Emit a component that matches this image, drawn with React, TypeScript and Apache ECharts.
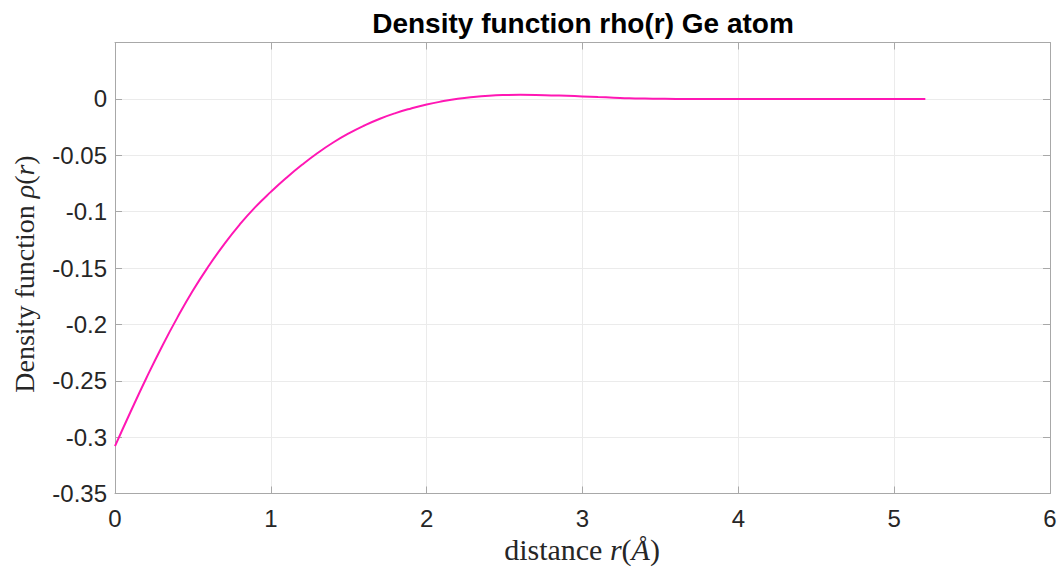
import React, { useEffect, useRef } from "react";
import * as echarts from "echarts";

const titleText = "Density function rho(r) Ge atom";

const rValues = [
  0.0, 0.1, 0.2, 0.3, 0.4, 0.5, 0.6, 0.7, 0.8, 0.9,
  1.0, 1.1, 1.2, 1.3, 1.4, 1.5, 1.6, 1.7, 1.8, 1.9,
  2.0, 2.1, 2.2, 2.3, 2.4, 2.5, 2.6, 2.7, 2.8, 2.9,
  3.0, 3.1, 3.2, 3.3, 3.4, 3.5, 3.6, 3.7, 3.8, 3.9,
  4.0, 4.1, 4.2, 4.3, 4.4, 4.5, 4.6, 4.7, 4.8, 4.9,
  5.0, 5.1, 5.2,
];

const rhoValues = [
  -0.308, -0.2775, -0.248, -0.22, -0.194, -0.17, -0.1485, -0.129, -0.1115, -0.096,
  -0.0825, -0.070, -0.0585, -0.048, -0.0387, -0.0306, -0.0236, -0.0176, -0.0126, -0.0085,
  -0.005, -0.0022, 0.0001, 0.0017, 0.0028, 0.0034, 0.0036, 0.0035, 0.0031, 0.0027,
  0.0022, 0.0016, 0.0011, 0.0006, 0.0003, 0.0001, 0.0, 0.0, 0.0, 0.0,
  0.0, 0.0, 0.0, 0.0, 0.0, 0.0, 0.0, 0.0, 0.0, 0.0,
  0.0, 0.0, 0.0,
];

const xTickLabels = ["0", "1", "2", "3", "4", "5", "6"];
const yTickLabels = ["-0.35", "-0.3", "-0.25", "-0.2", "-0.15", "-0.1", "-0.05", "0"];

const X_MIN = 0;
const X_MAX = 6;
const Y_MIN = -0.35;
const Y_MAX = 0.05;

export default function App() {
  const ref = useRef<HTMLDivElement>(null);

  useEffect(() => {
    document.body.style.margin = "0";
    if (!ref.current) return;
    const chart = echarts.init(ref.current, undefined, { renderer: "svg" });

    const axisGray = "#a8a8a8";
    const labelFont = "'Liberation Sans', Arial, Helvetica, sans-serif";
    const serif = "'Liberation Serif', 'Times New Roman', serif";

    const fmtX = (v: number) => {
      const i = Math.round(v - X_MIN);
      return xTickLabels[i] ?? "";
    };
    const fmtY = (v: number) => {
      const i = Math.round((v - Y_MIN) / 0.05);
      return yTickLabels[i] ?? "";
    };

    const commonX = {
      type: "value" as const,
      min: X_MIN,
      max: X_MAX,
      interval: 1,
      axisLine: { show: true, onZero: false, lineStyle: { color: axisGray, width: 1 } },
      axisTick: { show: true, inside: true, length: 7, lineStyle: { color: axisGray } },
    };
    const commonY = {
      type: "value" as const,
      min: Y_MIN,
      max: Y_MAX,
      interval: 0.05,
      axisLine: { show: true, onZero: false, lineStyle: { color: axisGray, width: 1 } },
      axisTick: { show: true, inside: true, length: 7, lineStyle: { color: axisGray } },
    };

    chart.setOption({
      animation: false,
      backgroundColor: "#ffffff",
      grid: { left: 115, right: 13, top: 42.5, bottom: 77.5, containLabel: false },
      xAxis: [
        {
          ...commonX,
          position: "bottom",
          axisLabel: {
            show: true,
            formatter: fmtX,
            color: "#262626",
            fontSize: 24,
            fontFamily: labelFont,
            margin: 13,
          },
          splitLine: { show: true, lineStyle: { color: "#ebebeb", width: 1 } },
        },
        {
          ...commonX,
          position: "top",
          axisLabel: { show: false },
          splitLine: { show: false },
        },
      ],
      yAxis: [
        {
          ...commonY,
          position: "left",
          axisLabel: {
            show: true,
            formatter: fmtY,
            showMaxLabel: false,
            color: "#262626",
            fontSize: 24,
            fontFamily: labelFont,
            margin: 8,
          },
          splitLine: { show: true, lineStyle: { color: "#ebebeb", width: 1 } },
        },
        {
          ...commonY,
          position: "right",
          axisLabel: { show: false },
          splitLine: { show: false },
        },
      ],
      series: [
        {
          type: "line",
          xAxisIndex: 0,
          yAxisIndex: 0,
          data: rValues.map((r, i) => [r, rhoValues[i]]),
          showSymbol: false,
          smooth: true,
          lineStyle: { color: "#ff17b4", width: 2 },
          itemStyle: { color: "#ff17b4" },
        },
      ],
      graphic: [
        {
          type: "text",
          x: 583,
          y: 23,
          style: {
            text: titleText,
            font: "bold 28px 'Liberation Sans', Arial, sans-serif",
            fill: "#000000",
            textAlign: "center",
            textVerticalAlign: "middle",
          },
        },
        {
          type: "text",
          x: 582,
          y: 549,
          style: {
            text: "{a|distance }{b|r}{a|(}{b|Å}{a|)}",
            textAlign: "center",
            textVerticalAlign: "middle",
            rich: {
              a: { fontFamily: serif, fontSize: 30, fill: "#262626", color: "#262626" },
              b: { fontFamily: serif, fontSize: 30, fontStyle: "italic", fill: "#262626", color: "#262626" },
            },
          },
        },
        {
          type: "text",
          x: 24,
          y: 274,
          rotation: Math.PI / 2,
          style: {
            text: "{a|Density function }{b|ρ}{a|(}{b|r}{a|)}",
            textAlign: "center",
            textVerticalAlign: "middle",
            rich: {
              a: { fontFamily: serif, fontSize: 28, fill: "#262626", color: "#262626" },
              b: { fontFamily: serif, fontSize: 28, fontStyle: "italic", fill: "#262626", color: "#262626" },
            },
          },
        },
      ],
    });

    return () => {
      chart.dispose();
    };
  }, []);

  return <div ref={ref} style={{ width: 1063, height: 571 }} />;
}
